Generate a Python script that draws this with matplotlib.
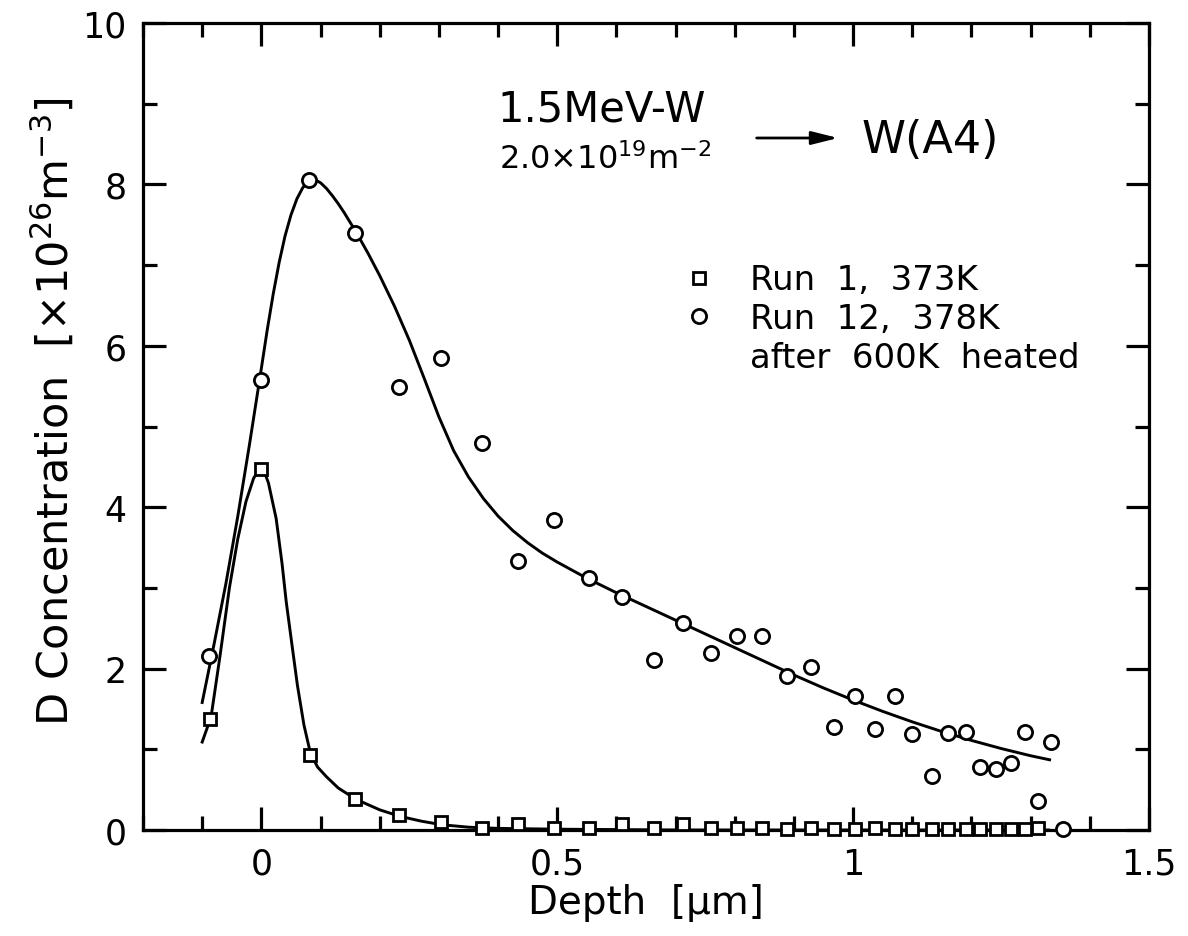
import matplotlib
matplotlib.use("Agg")
import matplotlib.pyplot as plt
from matplotlib.ticker import FixedLocator, MultipleLocator, FixedFormatter

plt.rcParams['font.family'] = ['DejaVu Sans']
plt.rcParams['mathtext.fontset'] = 'dejavusans'

# ---- data ----
depth_run12 = [-0.088, 0.0, 0.081, 0.159, 0.232, 0.303, 0.373, 0.434, 0.495, 0.553,
               0.610, 0.663, 0.712, 0.759, 0.803, 0.846, 0.888, 0.929, 0.968, 1.003,
               1.037, 1.070, 1.100, 1.134, 1.161, 1.190, 1.215, 1.241, 1.266, 1.290,
               1.312, 1.334, 1.354]
conc_run12 = [2.16, 5.58, 8.05, 7.40, 5.49, 5.85, 4.80, 3.33, 3.84, 3.12,
              2.89, 2.11, 2.56, 2.19, 2.40, 2.40, 1.91, 2.02, 1.28, 1.66,
              1.25, 1.66, 1.19, 0.67, 1.20, 1.22, 0.78, 0.76, 0.83, 1.22,
              0.36, 1.09, 0.01]

depth_run1 = [-0.087, 0.0, 0.083, 0.159, 0.232, 0.303, 0.373, 0.434, 0.495, 0.553,
              0.610, 0.663, 0.712, 0.759, 0.803, 0.846, 0.888, 0.929, 0.968, 1.003,
              1.037, 1.070, 1.100, 1.134, 1.161, 1.190, 1.215, 1.241, 1.266, 1.290,
              1.312]
conc_run1 = [1.37, 4.47, 0.93, 0.39, 0.19, 0.10, 0.03, 0.08, 0.02, 0.03,
             0.07, 0.02, 0.07, 0.02, 0.02, 0.02, 0.01, 0.02, 0.01, 0.01,
             0.02, 0.01, 0.01, 0.01, 0.01, 0.01, 0.01, 0.01, 0.01, 0.01,
             0.02]

fit_x_run12 = [-0.100, -0.080, -0.060, -0.040, -0.020, 0.000, 0.010, 0.020, 0.030, 0.040,
               0.050, 0.060, 0.070, 0.080, 0.090, 0.100, 0.110, 0.120, 0.130, 0.140,
               0.160, 0.180, 0.200, 0.225, 0.250, 0.275, 0.300, 0.325, 0.350, 0.375,
               0.400, 0.425, 0.450, 0.475, 0.500, 0.550, 0.600, 0.650, 0.700, 0.750,
               0.800, 0.850, 0.900, 0.950, 1.000, 1.050, 1.100, 1.150, 1.200, 1.250,
               1.300, 1.332]
fit_y_run12 = [1.58, 2.30, 3.05, 3.88, 4.78, 5.72, 6.20, 6.64, 7.03, 7.36,
               7.62, 7.82, 7.96, 8.04, 8.06, 8.02, 7.95, 7.86, 7.76, 7.65,
               7.41, 7.15, 6.87, 6.49, 6.07, 5.60, 5.12, 4.70, 4.375, 4.11,
               3.89, 3.71, 3.56, 3.43, 3.32, 3.12, 2.94, 2.77, 2.60, 2.43,
               2.26, 2.09, 1.92, 1.76, 1.61, 1.47, 1.34, 1.22, 1.11, 1.01,
               0.92, 0.87]

fit_x_run1 = [-0.100, -0.085, -0.070, -0.054, -0.040, -0.026, -0.013, -0.006, 0.000, 0.006,
              0.012, 0.025, 0.035, 0.042, 0.052, 0.061, 0.072, 0.083, 0.095, 0.110,
              0.130, 0.160, 0.200, 0.234, 0.270, 0.305, 0.350, 0.400, 0.500, 0.700,
              1.000, 1.330]
fit_y_run1 = [1.09, 1.40, 2.15, 3.00, 3.60, 4.07, 4.36, 4.44, 4.47, 4.42,
              4.30, 3.86, 3.30, 2.83, 2.28, 1.79, 1.30, 0.95, 0.78, 0.66,
              0.52, 0.38, 0.25, 0.17, 0.11, 0.065, 0.035, 0.02, 0.01, 0.0,
              0.0, 0.0]

xticks = [0, 0.5, 1, 1.5]
xtick_labels = ["0", "0.5", "1", "1.5"]
yticks = [0, 2, 4, 6, 8, 10]
ytick_labels = ["0", "2", "4", "6", "8", "10"]

label_run1 = "Run  1,  373K"
label_run12 = "Run  12,  378K"
label_run12b = "after  600K  heated"

# ---- figure ----
fig = plt.figure(figsize=(11.88, 9.37), dpi=100)
ax = fig.add_axes([143/1188, 106/937, 1006/1188, 807/937])

ax.plot(fit_x_run12, fit_y_run12, color='black', lw=2.1, zorder=2)
ax.plot(fit_x_run1, fit_y_run1, color='black', lw=2.1, zorder=2)

h1, = ax.plot(depth_run1, conc_run1, ls='none', marker='s', ms=9.2, mew=2.0,
              mfc='white', mec='black', zorder=3, clip_on=False)
h2, = ax.plot(depth_run12, conc_run12, ls='none', marker='o', ms=10.2, mew=2.0,
              mfc='white', mec='black', zorder=3, clip_on=False)
h3, = ax.plot([], [], ls='none', marker='none')

ax.set_xlim(-0.2, 1.5)
ax.set_ylim(0, 10)
ax.xaxis.set_major_locator(FixedLocator(xticks))
ax.xaxis.set_major_formatter(FixedFormatter(xtick_labels))
ax.xaxis.set_minor_locator(MultipleLocator(0.1))
ax.yaxis.set_major_locator(FixedLocator(yticks))
ax.yaxis.set_major_formatter(FixedFormatter(ytick_labels))
ax.yaxis.set_minor_locator(MultipleLocator(1))

ax.tick_params(which='both', direction='in', top=True, right=True, width=2.3,
               labelsize=25, pad=12)
ax.tick_params(which='major', length=16.5)
ax.tick_params(which='minor', length=10)
for s in ax.spines.values():
    s.set_linewidth(2.3)

ax.set_xlabel("Depth  [\u03bcm]", fontsize=28, labelpad=2)
ax.set_ylabel(r"D Concentration  [$\times$10$^{26}$m$^{-3}$]", fontsize=31)
ax.yaxis.set_label_coords(-0.065, 0.52)

leg = ax.legend([h1, h2, h3], [label_run1, label_run12, label_run12b],
                loc='upper left', bbox_to_anchor=(0.5358, 0.702), frameon=False,
                fontsize=24.5, numpoints=1, handlelength=1.0, handletextpad=1.0,
                labelspacing=0.17, borderpad=0, borderaxespad=0)

ax.text(0.456, 0.8786, "1.5MeV-W", transform=ax.transAxes, fontsize=30,
        ha='center', va='baseline')
ax.text(0.459, 0.820, r"2.0$\times$10$^{19}$m$^{-2}$", transform=ax.transAxes,
        fontsize=23, ha='center', va='baseline')
ax.text(0.7147, 0.840, "W(A4)", transform=ax.transAxes, fontsize=32,
        ha='left', va='baseline')
ax.annotate('', xy=(0.691, 0.8575), xytext=(0.610, 0.8575),
            xycoords='axes fraction', textcoords='axes fraction',
            arrowprops=dict(arrowstyle='-|>,head_length=0.8,head_width=0.2',
                            lw=2, color='black', mutation_scale=20,
                            shrinkA=0, shrinkB=0))

fig.savefig("out.png", dpi=100)
